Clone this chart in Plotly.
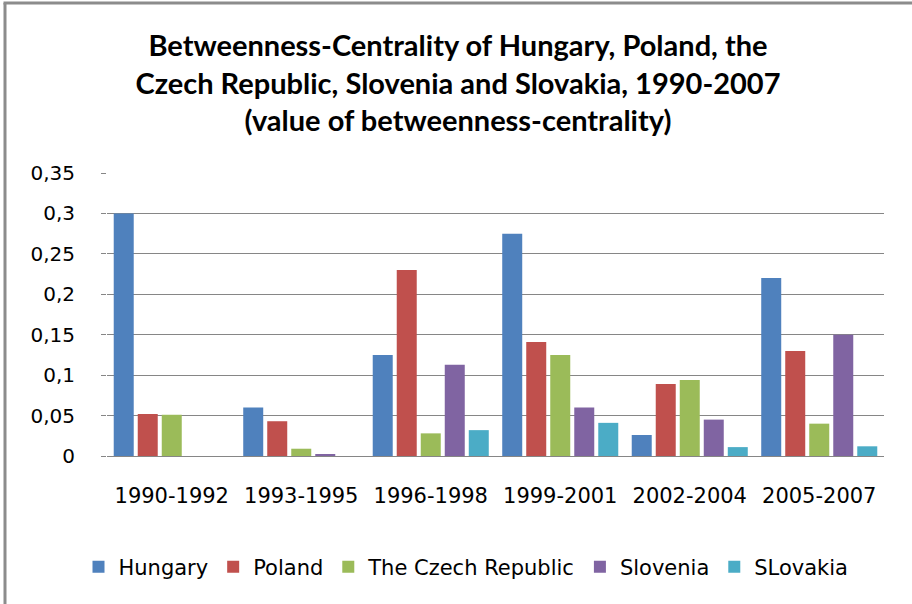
import plotly.graph_objects as go

# Periods on the category axis
periods = ["1990-1992", "1993-1995", "1996-1998", "1999-2001", "2002-2004", "2005-2007"]

# Betweenness-centrality per country and period
hungary = [0.300, 0.060, 0.125, 0.275, 0.026, 0.220]
poland = [0.052, 0.043, 0.230, 0.141, 0.089, 0.130]
czech = [0.051, 0.009, 0.028, 0.125, 0.094, 0.040]
slovenia = [0.0, 0.002, 0.113, 0.060, 0.045, 0.150]
slovakia = [0.0, 0.0, 0.032, 0.041, 0.011, 0.012]

series_names = ["Hungary", "Poland", "The Czech Republic", "Slovenia", "SLovakia"]
series_values = [hungary, poland, czech, slovenia, slovakia]
series_colors = ["#4F81BD", "#C0504D", "#9BBB59", "#8064A2", "#4BACC6"]

y_ticks = [0, 0.05, 0.1, 0.15, 0.2, 0.25, 0.3, 0.35]

W, H = 912, 604
ML, MR, MT, MB = 107, 28, 173, 148
PW, PH = W - ML - MR, H - MT - MB


def px_x(x):
    return (x - ML) / PW


def px_y(y):
    return (H - MB - y) / PH


fig = go.Figure()
for name, vals, col in zip(series_names, series_values, series_colors):
    fig.add_trace(go.Bar(name=name, x=periods, y=vals, marker_color=col,
                         marker_line_width=0))

font_main = "DejaVu Sans"

fig.update_layout(
    width=W, height=H,
    margin=dict(l=ML, r=MR, t=MT, b=MB, pad=0),
    paper_bgcolor="white", plot_bgcolor="white",
    separators=",.",
    barmode="group", bargap=0.073, bargroupgap=0.167,
    font=dict(family=font_main, size=20, color="#000000"),
    title=dict(
        text="Betweenness-Centrality of Hungary, Poland, the<br>"
             "Czech Republic, Slovenia and Slovakia, 1990-2007<br>"
             "(value of betweenness-centrality)",
        x=458 / W, xref="container", xanchor="center",
        y=1 - 56 / H, yref="container", yanchor="middle",
        font=dict(family="Lato", size=29, color="#000000", weight="bold"),
    ),
    xaxis=dict(
        showgrid=False, showline=False, zeroline=False, ticks="",
        tickfont=dict(size=21), ticklabelstandoff=25,
    ),
    yaxis=dict(
        range=[0, 0.35], tickvals=y_ticks,
        showgrid=True, gridcolor="#868686", gridwidth=1,
        zeroline=True, zerolinecolor="#868686", zerolinewidth=1,
        showline=False, ticks="outside", ticklen=5, tickcolor="#868686",
        tickfont=dict(size=20), ticklabelstandoff=22,
    ),
    legend=dict(
        orientation="h", x=px_x(466), xanchor="center",
        y=px_y(567), yanchor="middle",
        font=dict(size=21), bgcolor="rgba(0,0,0,0)",
    ),
    showlegend=True,
)

# Outer frame of the chart area (left and top edges)
frame = dict(color="#8C8C8C", width=3)
fig.add_shape(type="line", xref="paper", yref="paper",
              x0=px_x(5), x1=px_x(5), y0=px_y(3), y1=px_y(620), line=frame)
fig.add_shape(type="line", xref="paper", yref="paper",
              x0=px_x(3.5), x1=px_x(930), y0=px_y(3), y1=px_y(3), line=frame)

fig.write_html("out.html")
